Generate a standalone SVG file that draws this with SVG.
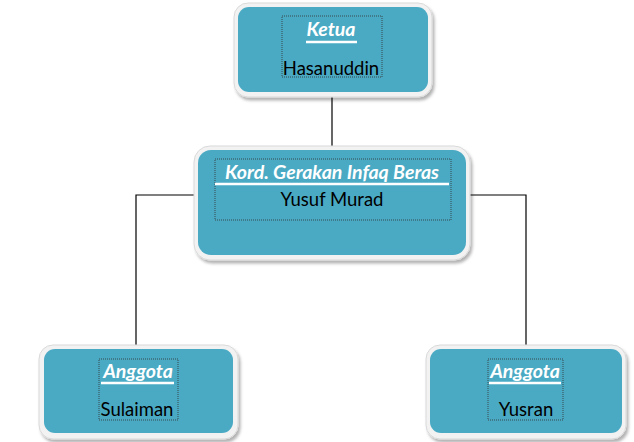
<svg xmlns="http://www.w3.org/2000/svg" width="634" height="442" viewBox="0 0 634 442">
<defs>
<filter id="sh" x="-10%" y="-10%" width="125%" height="130%">
<feGaussianBlur in="SourceAlpha" stdDeviation="1.5"/>
<feOffset dx="2" dy="3" result="b"/>
<feFlood flood-color="#000" flood-opacity="0.3"/>
<feComposite in2="b" operator="in"/>
<feMerge><feMergeNode/><feMergeNode in="SourceGraphic"/></feMerge>
</filter>
</defs>
<style>
.outer{fill:#f2f2f2;stroke:#d9d9d9;stroke-width:1;filter:url(#sh)}
.inner{fill:#4aaac4}
.dot{fill:none;stroke:#333;stroke-width:0.8;stroke-dasharray:1 1}
.title{font-family:Lato,"Open Sans",sans-serif;font-weight:bold;font-style:italic;fill:#fff;font-size:19.5px;text-anchor:middle}
.name{font-family:Lato,"Open Sans",sans-serif;fill:#000;font-size:18.5px;text-anchor:middle}
.ul{stroke:#fff;stroke-width:2.5}
.conn{fill:none;stroke:#000;stroke-width:1.2}
</style>
<rect width="634" height="442" fill="#fff"/>
<g id="connectors">
<path class="conn" d="M332 97V150"/>
<path class="conn" d="M197 195H136V348"/>
<path class="conn" d="M468 195H526V348"/>
</g>
<g id="ketua">
<rect class="outer" x="234" y="3" width="198" height="94" rx="14"/>
<rect class="inner" x="238" y="7" width="190" height="85" rx="11"/>
<rect class="dot" x="282" y="16" width="100" height="61"/>
<text class="title" x="331" y="36">Ketua</text>
<line class="ul" x1="306" y1="42" x2="357" y2="42"/>
<text class="name" x="331" y="75">Hasanuddin</text>
</g>
<g id="kord">
<rect class="outer" x="194" y="146" width="276" height="114" rx="16"/>
<rect class="inner" x="198" y="150" width="268" height="105" rx="13"/>
<rect class="dot" x="215" y="159" width="236" height="61"/>
<text class="title" x="332" y="179">Kord. Gerakan Infaq Beras</text>
<line class="ul" x1="215" y1="184" x2="449" y2="184"/>
<text class="name" x="332" y="206">Yusuf Murad</text>
</g>
<g id="sulaiman">
<rect class="outer" x="39" y="345" width="199" height="94" rx="14"/>
<rect class="inner" x="44" y="349" width="189" height="84" rx="11"/>
<rect class="dot" x="99" y="359" width="79" height="61"/>
<text class="title" x="138" y="378">Anggota</text>
<line class="ul" x1="101" y1="383" x2="174" y2="383"/>
<text class="name" x="137" y="416">Sulaiman</text>
</g>
<g id="yusran">
<rect class="outer" x="426" y="345" width="200" height="94" rx="14"/>
<rect class="inner" x="430" y="349" width="192" height="84" rx="11"/>
<rect class="dot" x="488" y="359" width="75" height="61"/>
<text class="title" x="525" y="378">Anggota</text>
<line class="ul" x1="489" y1="383" x2="561" y2="383"/>
<text class="name" x="526" y="416">Yusran</text>
</g>
</svg>
